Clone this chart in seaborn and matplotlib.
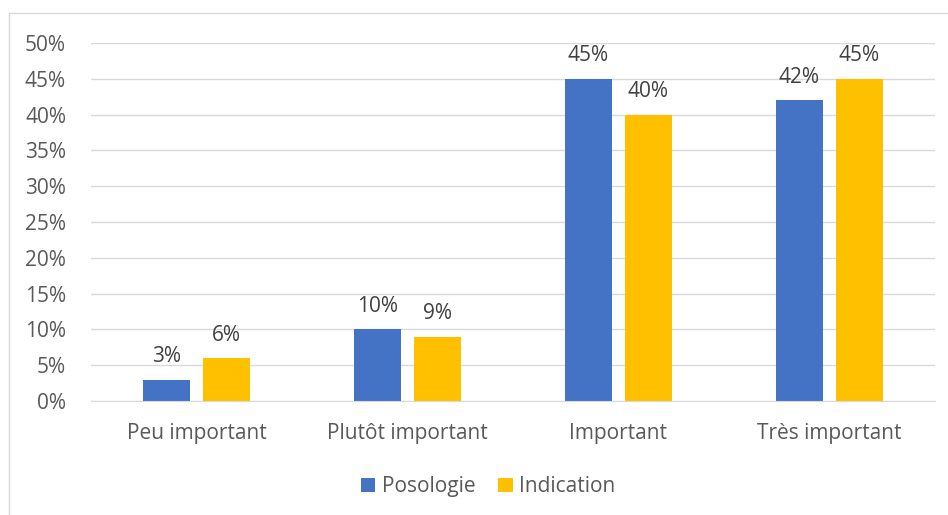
import pandas as pd
import matplotlib.pyplot as plt
import seaborn as sns
from matplotlib.patches import Rectangle

categories = ["Peu important", "Plutôt important", "Important", "Très important"]
posologie = [0.03, 0.10, 0.45, 0.42]
indication = [0.06, 0.09, 0.40, 0.45]
series = ["Posologie", "Indication"]

df = pd.DataFrame({
    "categorie": categories * 2,
    "valeur": posologie + indication,
    "serie": [series[0]] * 4 + [series[1]] * 4,
})

sns.set_style("white")
plt.rcParams["font.family"] = ["Open Sans", "DejaVu Sans"]

fig = plt.figure(figsize=(9.48, 5.15), dpi=100)
ax = fig.add_axes([0.096, 0.2214, 0.890, 0.6951])

sns.barplot(
    data=df, x="categorie", y="valeur", hue="serie",
    order=categories, hue_order=series,
    palette=["#4472C4", "#FFC000"],
    width=0.569, gap=0.215, saturation=1, ax=ax, legend=True,
    linewidth=0,
)

fs = 15
ax.set_ylim(0, 0.5)
ax.set_yticks([i * 0.05 for i in range(11)])
ax.set_yticklabels([f"{i * 5}%" for i in range(11)])
ax.yaxis.grid(True, color="#d9d9d9", linewidth=1)
ax.set_axisbelow(True)
for s in ["top", "right", "left"]:
    ax.spines[s].set_visible(False)
ax.spines["bottom"].set_color("#d9d9d9")
ax.tick_params(axis="both", length=0, labelsize=fs, labelcolor="#595959")
ax.tick_params(axis="y", pad=18)
ax.tick_params(axis="x", pad=16)
ax.set_xlabel("")
ax.set_ylabel("")

for cont in ax.containers:
    ax.bar_label(cont, labels=[f"{v * 100:.0f}%" for v in cont.datavalues],
                 padding=9, fontsize=fs, color="#404040")

ax.legend(loc="upper center", bbox_to_anchor=(488 / 948, 0.095),
          bbox_transform=fig.transFigure, ncol=2, frameon=False,
          fontsize=fs, labelcolor="#595959", handlelength=0.7, handleheight=0.7,
          handletextpad=0.3, columnspacing=1.1, borderpad=0)

fig.patches.append(Rectangle((9 / 948, -0.01), 1.0, 1 - 13 / 515 + 0.01,
                             transform=fig.transFigure, fill=False,
                             edgecolor="#d9d9d9", linewidth=1))

plt.savefig("out.png", dpi=100)
plt.close()
